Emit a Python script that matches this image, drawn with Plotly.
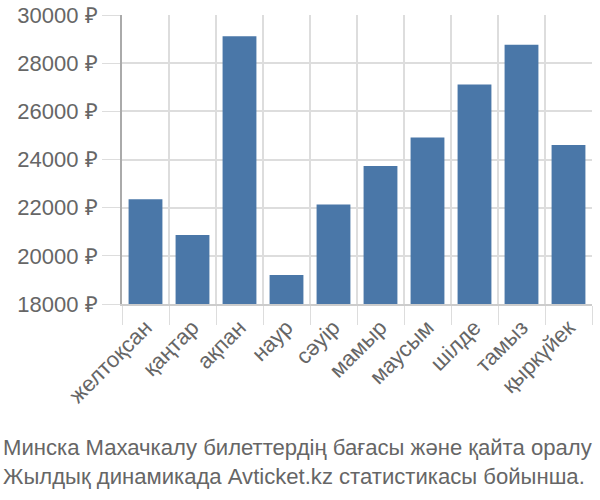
import plotly.graph_objects as go

months = ["желтоқсан", "қаңтар", "ақпан", "наур", "сәуір", "мамыр",
          "маусым", "шілде", "тамыз", "қыркүйек"]
prices = [22350, 20860, 29120, 19200, 22130, 23730, 24910, 27110, 28760, 24600]
y_ticks = [18000, 20000, 22000, 24000, 26000, 28000, 30000]
y_tick_text = [f"{v} ₽" for v in y_ticks]
title_lines = ["Минска Махачкалу билеттердің бағасы және қайта оралу",
               "Жылдық динамикада Avticket.kz статистикасы бойынша."]

fig = go.Figure(go.Bar(x=months, y=prices, marker_color="#4a77a8",
                       marker_line_width=0))

font = "Liberation Sans, Arial, sans-serif"
fs = 22
fig.update_layout(
    width=600, height=500,
    margin=dict(l=122, r=8, t=15, b=196, autoexpand=False),
    plot_bgcolor="white", paper_bgcolor="white",
    bargap=0.28,
    showlegend=False,
    font=dict(family=font, size=fs, color="#666666"),
    annotations=[dict(text="<br>".join(title_lines), xref="paper", yref="paper",
                      x=-121 / 470, xanchor="left", y=-0.447, yanchor="top",
                      showarrow=False, align="left",
                      font=dict(family=font, size=22.1, color="#666666"))],
)
fig.update_xaxes(
    tickangle=-45, tickson="boundaries", ticks="outside", ticklen=19,
    tickcolor="#dddddd", showgrid=True, gridcolor="#dddddd", gridwidth=2,
    showline=True, linecolor="#cccccc", linewidth=2, automargin=False,
    tickfont=dict(size=fs, color="#666666"),
)
fig.update_yaxes(
    range=[18000, 30000], tickvals=y_ticks, ticktext=y_tick_text,
    ticks="outside", ticklen=18, tickcolor="#dddddd",
    showgrid=True, gridcolor="#dddddd", gridwidth=2, automargin=False,
    showline=True, linecolor="#aaaaaa", linewidth=2, zeroline=False,
    tickfont=dict(size=fs, color="#666666"),
)

fig.write_html("out.html")
